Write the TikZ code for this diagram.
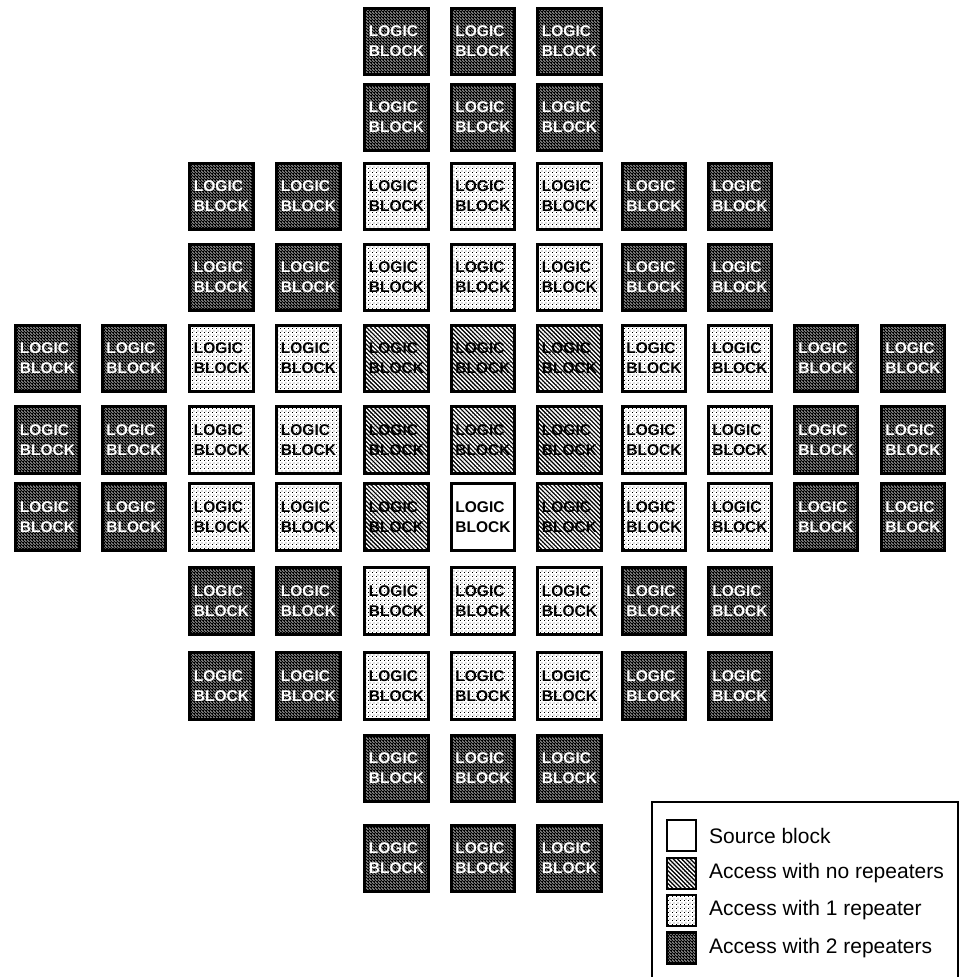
\documentclass[tikz,border=0pt]{standalone}
\usepackage{fontspec}
\setmainfont{Liberation Sans}
\usetikzlibrary{patterns.meta}
\tikzdeclarepattern{
  name=chkdark, type=uncolored,
  bottom left={(0pt,0pt)}, top right={(3pt,3pt)}, tile size={(3pt,3pt)},
  code={
    \pgfpathrectangle{\pgfpoint{0pt}{2pt}}{\pgfpoint{1pt}{1pt}}
    \pgfpathrectangle{\pgfpoint{1pt}{1pt}}{\pgfpoint{1pt}{1pt}}
    \pgfpathrectangle{\pgfpoint{2pt}{0pt}}{\pgfpoint{1pt}{1pt}}
    \pgfusepath{fill}
  }
}
\tikzdeclarepattern{
  name=dotlight, type=uncolored,
  bottom left={(0pt,0pt)}, top right={(4pt,4pt)}, tile size={(4pt,4pt)},
  code={
    \pgfpathrectangle{\pgfpoint{0pt}{0pt}}{\pgfpoint{1pt}{1pt}}
    \pgfpathrectangle{\pgfpoint{2pt}{2pt}}{\pgfpoint{1pt}{1pt}}
    \pgfusepath{fill}
  }
}
\begin{document}
\begin{tikzpicture}[x=1pt,y=-1pt,
  blk/.style={draw=black, line width=2.6pt, minimum width=63.5pt, minimum height=66.5pt,
    inner sep=0pt, align=left, font=\bfseries\fontsize{15.5}{20}\selectfont},
  tytwo/.style={blk, preaction={fill=black}, pattern=chkdark, pattern color=white, text=white},
  tyzero/.style={blk, preaction={fill=black}, pattern={Lines[angle=-45,distance=3pt,line width=1.5pt]}, pattern color=white, text=black},
  tyone/.style={blk, preaction={fill=white}, pattern=dotlight, pattern color=black, text=black},
  tysrc/.style={blk, fill=white, text=black},
  swatch/.style={draw=black, line width=2.2pt, minimum width=29pt, minimum height=31pt, inner sep=0pt},
  legtext/.style={anchor=west, inner sep=0pt, font=\fontsize{21}{24}\selectfont}
]
\useasboundingbox (0,0) rectangle (962,977);
\def\colx{{47.5,134,221.5,308.5,396.5,483,569.5,654,740,826,913}}
\def\rowy{{41.5,117.5,196.5,277.5,358.5,440,517,601,686,768.5,858.5}}
\foreach \r/\c/\t in {
  1/5/tytwo,1/6/tytwo,1/7/tytwo,
  2/5/tytwo,2/6/tytwo,2/7/tytwo,
  3/3/tytwo,3/4/tytwo,3/5/tyone,3/6/tyone,3/7/tyone,3/8/tytwo,3/9/tytwo,
  4/3/tytwo,4/4/tytwo,4/5/tyone,4/6/tyone,4/7/tyone,4/8/tytwo,4/9/tytwo,
  5/1/tytwo,5/2/tytwo,5/3/tyone,5/4/tyone,5/5/tyzero,5/6/tyzero,5/7/tyzero,5/8/tyone,5/9/tyone,5/10/tytwo,5/11/tytwo,
  6/1/tytwo,6/2/tytwo,6/3/tyone,6/4/tyone,6/5/tyzero,6/6/tyzero,6/7/tyzero,6/8/tyone,6/9/tyone,6/10/tytwo,6/11/tytwo,
  7/1/tytwo,7/2/tytwo,7/3/tyone,7/4/tyone,7/5/tyzero,7/6/tysrc,7/7/tyzero,7/8/tyone,7/9/tyone,7/10/tytwo,7/11/tytwo,
  8/3/tytwo,8/4/tytwo,8/5/tyone,8/6/tyone,8/7/tyone,8/8/tytwo,8/9/tytwo,
  9/3/tytwo,9/4/tytwo,9/5/tyone,9/6/tyone,9/7/tyone,9/8/tytwo,9/9/tytwo,
  10/5/tytwo,10/6/tytwo,10/7/tytwo,
  11/5/tytwo,11/6/tytwo,11/7/tytwo}
{
  \pgfmathsetmacro\xx{\colx[\c-1]}
  \pgfmathsetmacro\yy{\rowy[\r-1]}
  \node[\t] (b\r-\c) at (\xx,\yy) {LOGIC\\BLOCK};
}
% legend
\draw[line width=2pt] (652,985) -- (652,802) -- (958,802) -- (958,985);
\node[swatch, fill=white] (s1) at (681.5,835.5) {};
\node[swatch, preaction={fill=black}, pattern={Lines[angle=-45,distance=3pt,line width=1.5pt]}, pattern color=white] (s2) at (681.5,873.5) {};
\node[swatch, preaction={fill=white}, pattern=dotlight, pattern color=black] (s3) at (681.5,910.5) {};
\node[swatch, preaction={fill=black}, pattern=chkdark, pattern color=white] (s4) at (681.5,948) {};
\node[legtext] (t1) at (709,835.5) {Source block};
\node[legtext] (t2) at (709,873.5) {Access with no repeaters};
\node[legtext] (t3) at (709,910.5) {Access with 1 repeater};
\node[legtext] (t4) at (709,948) {Access with 2 repeaters};
\end{tikzpicture}
\end{document}
